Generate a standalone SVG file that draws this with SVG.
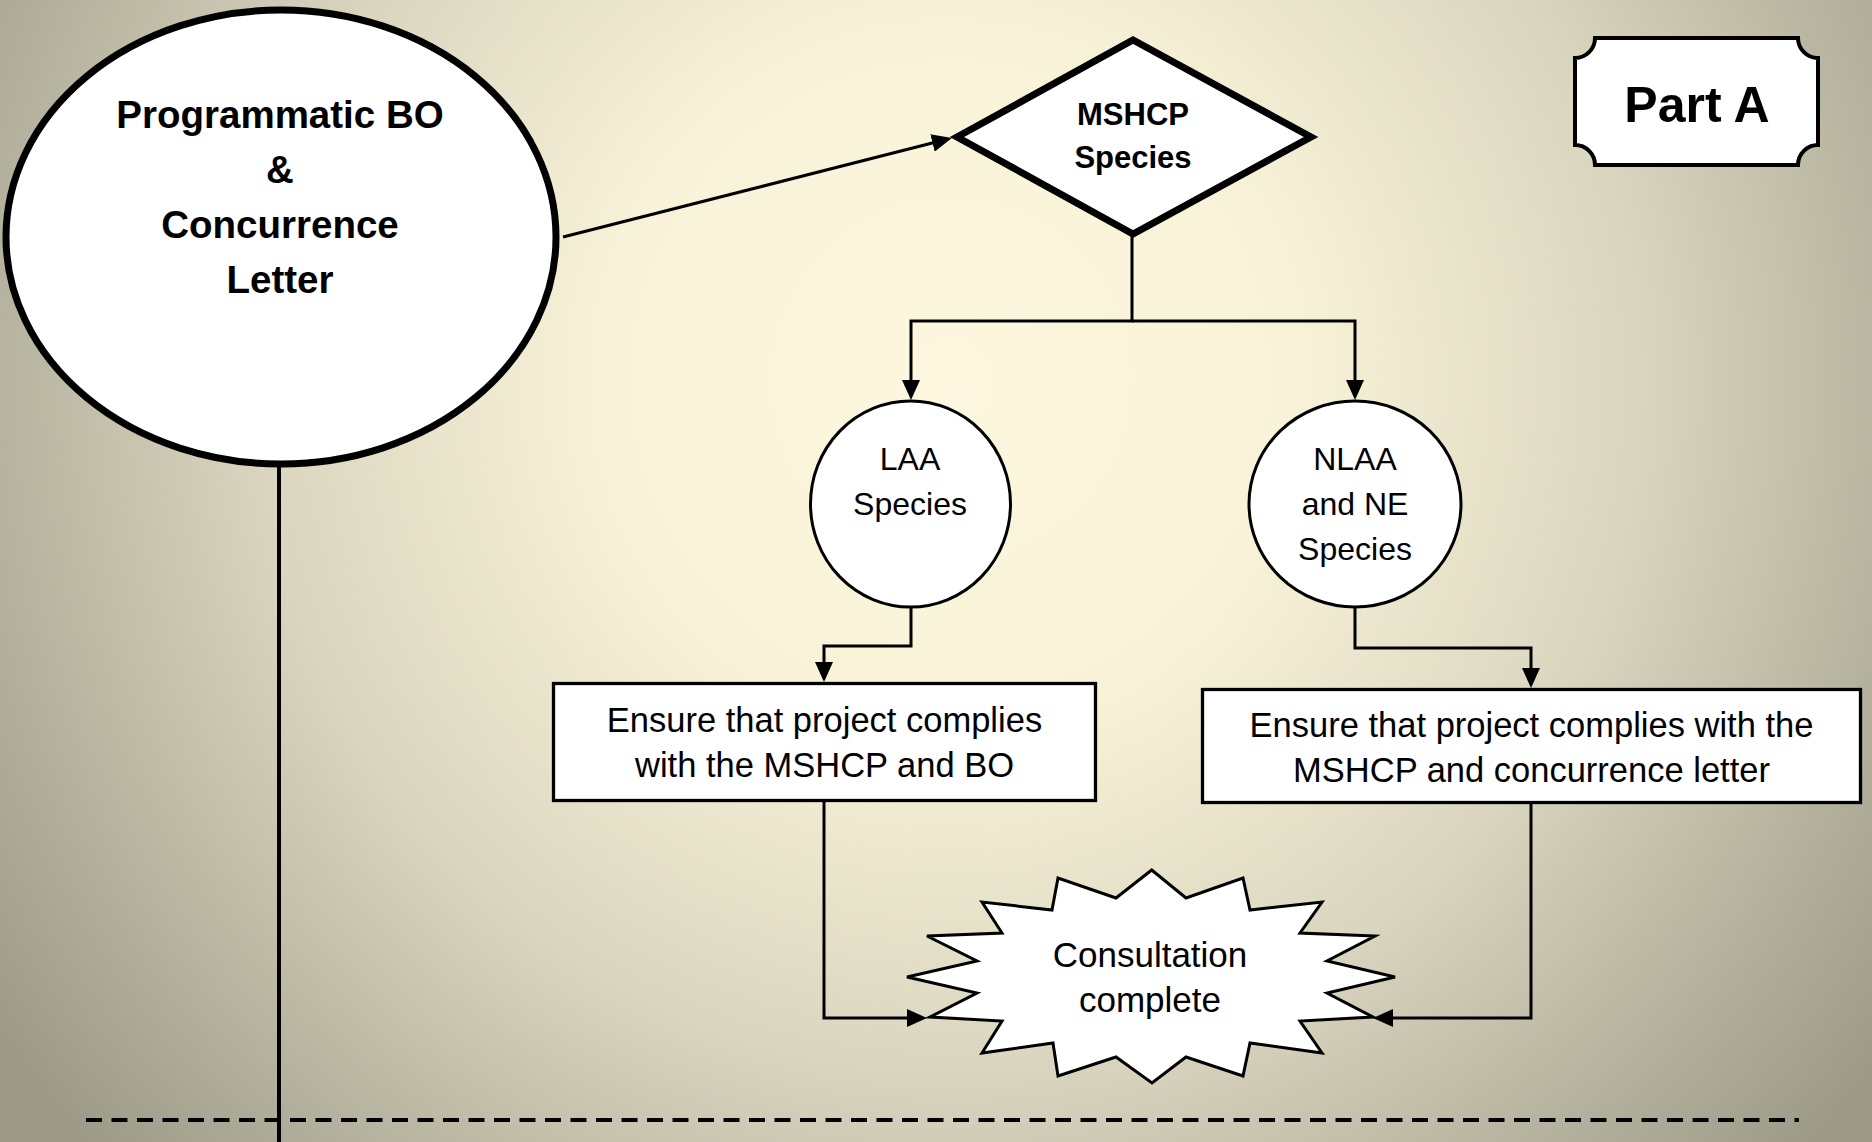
<svg xmlns="http://www.w3.org/2000/svg" width="1872" height="1142" viewBox="0 0 1872 1142">
  <defs>
    <radialGradient id="bg" gradientUnits="userSpaceOnUse" cx="950" cy="380" r="1150">
      <stop offset="0" stop-color="#fdf7df"/>
      <stop offset="0.3" stop-color="#f8f2d8"/>
      <stop offset="0.6" stop-color="#dad5bf"/>
      <stop offset="0.85" stop-color="#b2af9c"/>
      <stop offset="1" stop-color="#9d9a87"/>
    </radialGradient>
    <marker id="arrow" markerUnits="userSpaceOnUse" markerWidth="20" markerHeight="18" viewBox="0 0 20 18" refX="16" refY="9" orient="auto">
      <path d="M0,0 L20,9 L0,18 Z" fill="#000"/>
    </marker>
  </defs>
  <style>
    .shape { fill: #ffffff; stroke: #000000; }
    .conn { fill: none; stroke: #000000; stroke-width: 3; }
    .t { font-family: "Liberation Sans", Arial, sans-serif; fill: #000000; text-anchor: middle; }
    .b { font-weight: bold; }
  </style>

  <rect x="0" y="0" width="1872" height="1142" fill="url(#bg)"/>

  <g id="connectors">
    <line x1="279" y1="466" x2="279" y2="1142" stroke="#000" stroke-width="4"/>
    <line x1="86" y1="1120" x2="1799" y2="1120" stroke="#000" stroke-width="4" stroke-dasharray="16 9.5"/>
    <path class="conn" d="M563,237 L948,139" marker-end="url(#arrow)"/>
    <path class="conn" d="M1132,234 V321 H911 V396" marker-end="url(#arrow)"/>
    <path class="conn" d="M1132,321 H1355 V396" marker-end="url(#arrow)"/>
    <path class="conn" d="M911,607 V646 H824 V678" marker-end="url(#arrow)"/>
    <path class="conn" d="M1355,607 V648 H1531 V684" marker-end="url(#arrow)"/>
    <path class="conn" d="M824,802 V1018 H923" marker-end="url(#arrow)"/>
    <path class="conn" d="M1531,804 V1018 H1377" marker-end="url(#arrow)"/>
  </g>

  <g id="node-programmatic">
    <ellipse class="shape" cx="281" cy="237" rx="275" ry="227" stroke-width="7"/>
    <text class="t b" x="280" y="128" font-size="38.5">Programmatic BO</text>
    <text class="t b" x="280" y="183" font-size="38.5">&amp;</text>
    <text class="t b" x="280" y="238" font-size="38.5">Concurrence</text>
    <text class="t b" x="280" y="293" font-size="38.5">Letter</text>
  </g>

  <g id="node-mshcp">
    <polygon class="shape" points="957,137 1133,40 1311,137 1133,234" stroke-width="7"/>
    <text class="t b" x="1133" y="125" font-size="31">MSHCP</text>
    <text class="t b" x="1133" y="168" font-size="31">Species</text>
  </g>

  <g id="node-parta">
    <path class="shape" stroke-width="4" d="M1595,38 H1798 A20,20 0 0 0 1818,58 V145 A20,20 0 0 0 1798,165 H1595 A20,20 0 0 0 1575,145 V58 A20,20 0 0 0 1595,38 Z"/>
    <text class="t b" x="1697" y="122" font-size="50">Part A</text>
  </g>

  <g id="node-laa">
    <ellipse class="shape" cx="910.5" cy="504" rx="100" ry="103" stroke-width="3"/>
    <text class="t" x="910" y="470" font-size="32">LAA</text>
    <text class="t" x="910" y="515" font-size="32">Species</text>
  </g>

  <g id="node-nlaa">
    <ellipse class="shape" cx="1355" cy="504" rx="106" ry="103" stroke-width="3"/>
    <text class="t" x="1355" y="470" font-size="32">NLAA</text>
    <text class="t" x="1355" y="515" font-size="32">and NE</text>
    <text class="t" x="1355" y="560" font-size="32">Species</text>
  </g>

  <g id="node-box-bo">
    <rect class="shape" x="553.5" y="683.5" width="542" height="117" stroke-width="3.3"/>
    <text class="t" x="824.5" y="732" font-size="34.5">Ensure that project complies</text>
    <text class="t" x="824.5" y="777" font-size="34.5">with the MSHCP and BO</text>
  </g>

  <g id="node-box-concurrence">
    <rect class="shape" x="1202.5" y="689.5" width="658" height="113" stroke-width="3.3"/>
    <text class="t" x="1531.5" y="737" font-size="34.5">Ensure that project complies with the</text>
    <text class="t" x="1531.5" y="782" font-size="34.5">MSHCP and concurrence letter</text>
  </g>

  <g id="node-complete">
    <polygon class="shape" stroke-width="3" points="1151.7,870 1186,898 1243,878 1250,910 1322,902 1300,933 1375,936 1327,961 1395,977 1327,993 1373,1017 1300,1021 1322,1053 1250,1043 1243,1076 1186,1057 1152,1083 1116,1057 1058,1076 1053,1043 982,1053 1002,1021 930,1017 977,993 907,977 977,961 927,936 1002,933 982,902 1052,910 1058,878 1116,898"/>
    <text class="t" x="1150" y="967" font-size="35">Consultation</text>
    <text class="t" x="1150" y="1012" font-size="35">complete</text>
  </g>
</svg>
